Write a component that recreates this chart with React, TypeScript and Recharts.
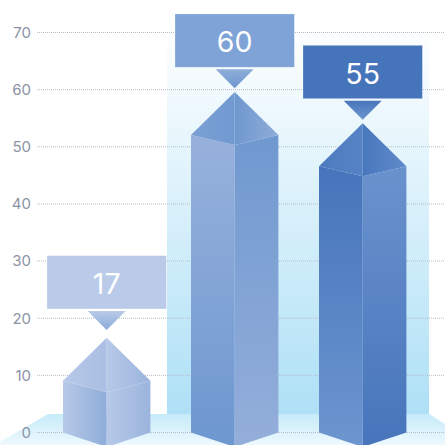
import React from "react";
import { BarChart, Bar, XAxis, YAxis, CartesianGrid } from "recharts";

const categories = ["A", "B", "C"];
const pillarTops = [16.6, 59.6, 54.1];
const labelValues = [17, 60, 55];
const yTicks = [0, 10, 20, 30, 40, 50, 60, 70];

const rows = categories.map((name, i) => ({ name, top: pillarTops[i], label: labelValues[i] }));

const FONT = "Inter, 'Open Sans', sans-serif";
const ROOF_DROP = 43;
const VALLEY_DROP = 10;
const FRONT_DROP = 14.5;

type Look = {
  box: string;
  triTop: string;
  triBottom: string;
  leftFace: [string, string];
  rightFace: [string, string];
  faceHorizontal: boolean;
  roofLeft: [string, string];
  roofRight: [string, string];
  lift: number;
  valleyExtra: number;
};

const looks: Look[] = [
  {
    box: "#b9cbe8",
    triTop: "#b9cbe8",
    triBottom: "#8aa9d8",
    leftFace: ["#b7c9e7", "#8fadd9"],
    rightFace: ["#b7c9e7", "#9bb4dd"],
    faceHorizontal: true,
    roofLeft: ["#b7c9e7", "#a9bee3"],
    roofRight: ["#b7c9e7", "#9bb4dd"],
    lift: 4,
    valleyExtra: 1.5,
  },
  {
    box: "#7fa3d6",
    triTop: "#8dadd9",
    triBottom: "#6f97cf",
    leftFace: ["#97b1dc", "#6d97cf"],
    rightFace: ["#7099d0", "#94aeda"],
    faceHorizontal: false,
    roofLeft: ["#7aa0d4", "#729ad1"],
    roofRight: ["#6f98cf", "#8fabd8"],
    lift: 0,
    valleyExtra: 0,
  },
  {
    box: "#4674bb",
    triTop: "#4875bc",
    triBottom: "#6d94ce",
    leftFace: ["#4674bb", "#6d96d0"],
    rightFace: ["#6a92cd", "#4774bb"],
    faceHorizontal: false,
    roofLeft: ["#4d7bbf", "#5683c5"],
    roofRight: ["#4877bd", "#608bc9"],
    lift: 0,
    valleyExtra: 0,
  },
];

function Grad({ id, c, horizontal }: { id: string; c: [string, string]; horizontal: boolean }) {
  return (
    <linearGradient id={id} x1="0" y1="0" x2={horizontal ? "1" : "0"} y2={horizontal ? "0" : "1"}>
      <stop offset="0%" stopColor={c[0]} />
      <stop offset="100%" stopColor={c[1]} />
    </linearGradient>
  );
}

function Pillar(props: any) {
  const { x, y, width, height, index, payload } = props;
  const look = looks[index];
  const cx = x + width / 2;
  const left = x;
  const right = x + width;
  const base = y + height;
  const shoulder = y + ROOF_DROP;
  const valley = shoulder + VALLEY_DROP + look.valleyExtra;
  const tipY = y - 3.7 - look.lift;
  const triTopY = tipY - 19;
  const boxBottom = triTopY - 2;
  const boxH = 53.3;
  const boxW = 119.4;
  const p = `p${index}`;
  return (
    <g>
      <defs>
        <Grad id={`${p}lf`} c={look.leftFace} horizontal={look.faceHorizontal} />
        <Grad id={`${p}rf`} c={look.rightFace} horizontal={look.faceHorizontal} />
        <Grad id={`${p}rl`} c={look.roofLeft} horizontal />
        <Grad id={`${p}rr`} c={look.roofRight} horizontal />
        <Grad id={`${p}tr`} c={[look.triTop, look.triBottom]} horizontal={false} />
      </defs>
      <polygon points={`${left},${shoulder} ${cx},${valley} ${cx},${base + FRONT_DROP} ${left},${base}`} fill={`url(#${p}lf)`} />
      <polygon points={`${cx},${valley} ${right},${shoulder} ${right},${base} ${cx},${base + FRONT_DROP}`} fill={`url(#${p}rf)`} />
      <polygon points={`${cx},${y} ${cx},${valley} ${left},${shoulder}`} fill={`url(#${p}rl)`} />
      <polygon points={`${cx},${y} ${right},${shoulder} ${cx},${valley}`} fill={`url(#${p}rr)`} />
      <polygon points={`${cx - 19},${triTopY} ${cx + 19},${triTopY} ${cx},${tipY}`} fill={`url(#${p}tr)`} />
      <rect
        x={cx - boxW / 2}
        y={boxBottom - boxH}
        width={boxW}
        height={boxH}
        fill={look.box}
        stroke="#ffffff"
        strokeOpacity={0.3}
        strokeWidth={0.8}
      />
      <text
        x={cx}
        y={boxBottom - boxH / 2 + 1}
        textAnchor="middle"
        dominantBaseline="central"
        fill="#ffffff"
        fontFamily={FONT}
        fontSize={28.5}
        fontWeight={400}
      >
        {payload.label}
      </text>
    </g>
  );
}

export default function App() {
  return (
    <div style={{ position: "absolute", left: 0, top: 0, width: 445, height: 445, overflow: "hidden", background: "#fff" }}>
      <svg width={445} height={445} style={{ position: "absolute", left: 0, top: 0 }}>
        <defs>
          <linearGradient id="wall" x1="0" y1="0" x2="0" y2="1">
            <stop offset="0%" stopColor="#ffffff" />
            <stop offset="100%" stopColor="#aee0f6" />
          </linearGradient>
          <linearGradient id="floor" x1="0" y1="0" x2="0" y2="1">
            <stop offset="0%" stopColor="#c6eaf9" />
            <stop offset="100%" stopColor="#eff9fe" />
          </linearGradient>
        </defs>
        <rect x={167} y={25} width={262} height={389.5} fill="url(#wall)" />
        <polygon points="48,414 429,414 445,424 445,445 0,445 0,442" fill="url(#floor)" />
      </svg>
      <div style={{ position: "absolute", left: 0, top: 0 }}>
        <BarChart
          width={445}
          height={445}
          data={rows}
          margin={{ top: 32.5, right: 0, bottom: 12.5, left: 0 }}
          barSize={87.4}
          style={{ overflow: "visible" }}
        >
          <CartesianGrid vertical={false} stroke="#b7bbc6" strokeDasharray="1 1" />
          <XAxis dataKey="name" hide padding={{ left: 6, right: 18 }} />
          <YAxis
            width={37}
            domain={[0, 70]}
            ticks={yTicks}
            interval={0}
            axisLine={false}
            tickLine={false}
            tickSize={0}
            tickMargin={6}
            tick={{ fill: "#8b93a5", fontSize: 15, fontFamily: FONT }}
          />
          <Bar dataKey="top" isAnimationActive={false} shape={Pillar} />
        </BarChart>
      </div>
    </div>
  );
}
